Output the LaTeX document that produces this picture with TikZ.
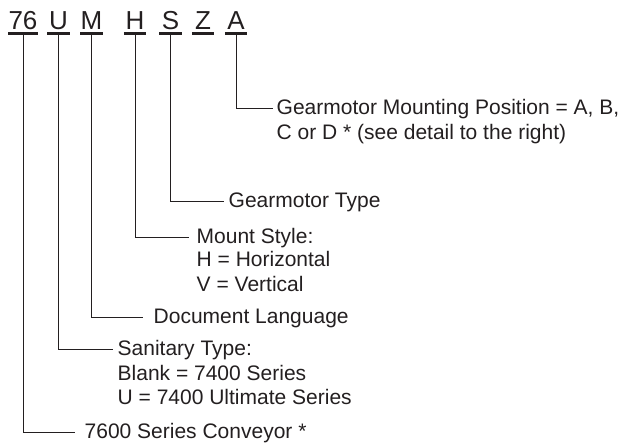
\documentclass[tikz,border=0pt]{standalone}
\usepackage{fontspec}
\setmainfont{Liberation Sans}
\usetikzlibrary{calc}
\definecolor{ink}{HTML}{231F20}
\begin{document}
\begin{tikzpicture}[x=1pt,y=-1pt,
  code/.style={inner sep=0pt, text=ink, font=\fontsize{26}{26}\selectfont, text height=18.5pt, text depth=3.5pt, minimum width=22pt, anchor=base},
  lab/.style={inner sep=0pt, anchor=west, text=ink, font=\fontsize{21}{25}\selectfont, text height=13pt, text depth=0pt},
  sub/.style={inner sep=0pt, anchor=base west, text=ink, font=\fontsize{21}{25}\selectfont},
  conn/.style={line width=0.9pt, draw=ink},
  ul/.style={line width=2.4pt, draw=ink}]
\useasboundingbox (0,0) rectangle (624,443);
% code letters
\node[code, minimum width=23pt] (c76) at (23,30) {76};
\node[code] (cU) at (58.5,30) {U};
\node[code] (cM) at (91.5,30) {M};
\node[code] (cH) at (135,30) {H};
\node[code] (cS) at (170.5,30) {S};
\node[code] (cZ) at (203,30) {Z};
\node[code] (cA) at (236,30) {A};
\foreach \n in {c76,cU,cM,cH,cS,cZ,cA} \draw[ul] (\n.south west) -- (\n.south east);
% labels
\node[lab] (lA) at (276.5,108) {Gearmotor Mounting Position = A, B,};
\node[sub] (lA2) at ($(lA.west)+(0,31.5)$) {C or D * (see detail to the right)};
\node[lab] (lS) at (228.5,201.5) {Gearmotor Type};
\node[lab] (lH) at (196.5,237) {Mount Style:};
\node[sub] (lH2) at ($(lH.west)+(0,29.5)$) {H = Horizontal};
\node[sub] (lH3) at ($(lH.west)+(0,54.5)$) {V = Vertical};
\node[lab] (lM) at (153.5,317) {Document Language};
\node[lab] (lU) at (117.5,349.5) {Sanitary Type:};
\node[sub] (lU2) at ($(lU.west)+(0,31)$) {Blank = 7400 Series};
\node[sub] (lU3) at ($(lU.west)+(0,55.5)$) {U = 7400 Ultimate Series};
\node[lab] (l76) at (84.5,432) {7600 Series Conveyor *};
% connectors
\draw[conn, shorten >=3.5pt] (cA.south) |- (lA.west);
\draw[conn, shorten >=4.5pt] (cS.south) |- (lS.west);
\draw[conn, shorten >=7.5pt] (cH.south) |- (lH.west);
\draw[conn, shorten >=10.5pt] (cM.south) |- (lM.west);
\draw[conn, shorten >=4.5pt] (cU.south) |- (lU.west);
\draw[conn, shorten >=9.5pt] (c76.south) |- (l76.west);
\end{tikzpicture}
\end{document}
